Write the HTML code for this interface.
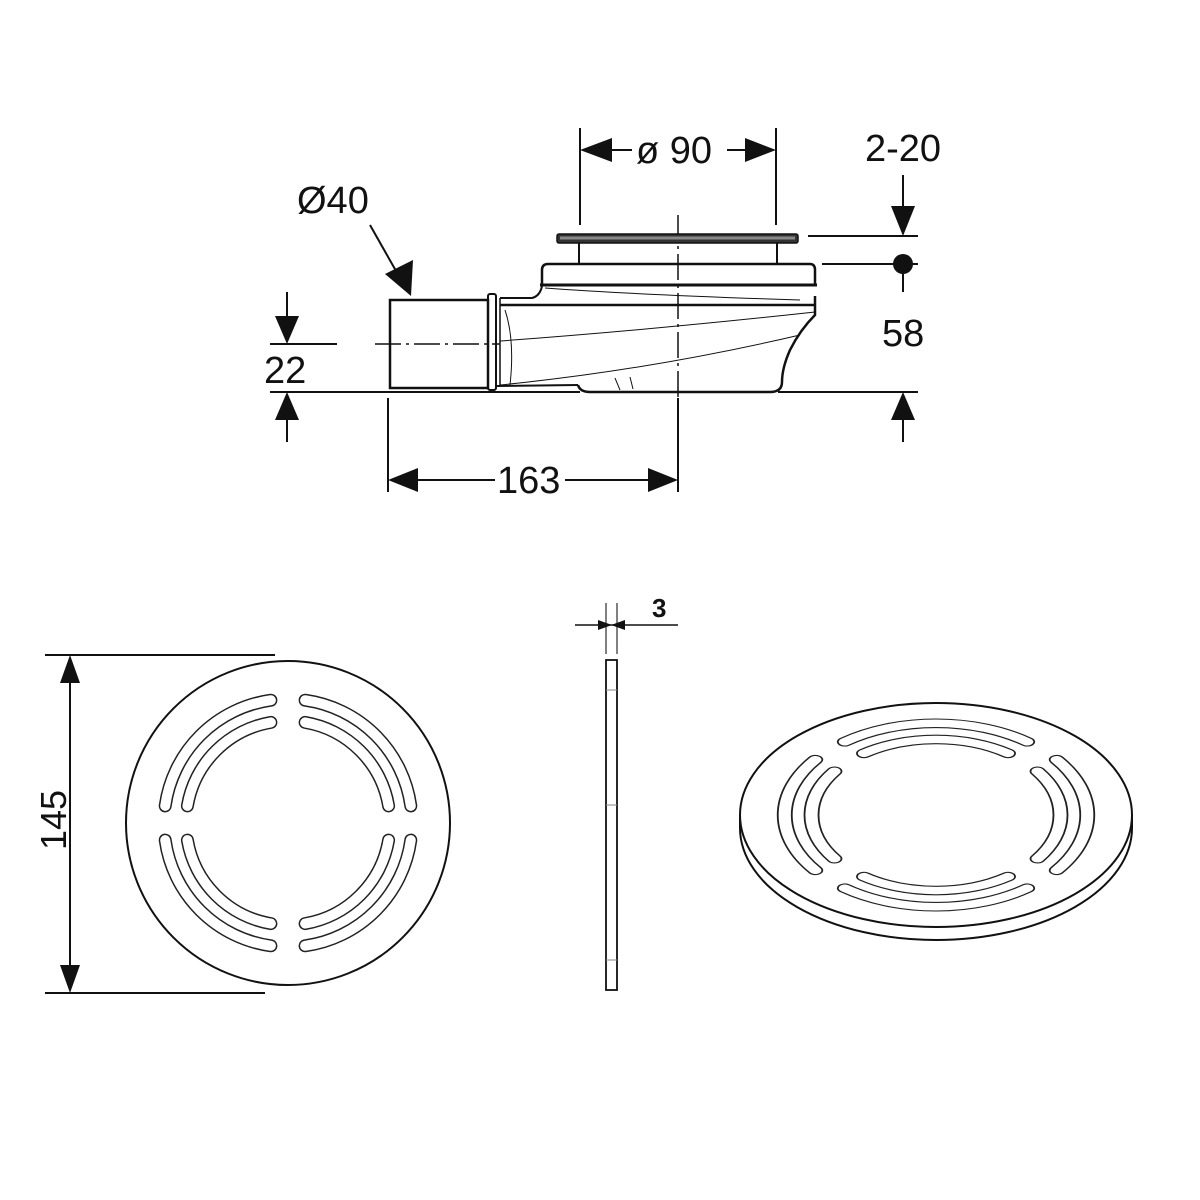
<!DOCTYPE html>
<html><head><meta charset="utf-8"><style>
html,body{margin:0;padding:0;background:#fff}
svg{display:block}
text{font-family:"Liberation Sans Narrow","Liberation Sans",sans-serif;fill:#111}
</style></head><body>
<svg width="1200" height="1200" viewBox="0 0 1200 1200" xmlns="http://www.w3.org/2000/svg">
<defs>
<g id="slots">
  <g fill="none" stroke-linecap="round">
    <g stroke="#222" stroke-width="13">
      <path d="M-17.1,-122.8 A124,124 0 0 0 -122.8,-17.1"/>
      <path d="M-17.1,-100.6 A102,102 0 0 0 -100.6,-17.1"/>
    </g>
    <g stroke="#fff" stroke-width="10">
      <path d="M-17.1,-122.8 A124,124 0 0 0 -122.8,-17.1"/>
      <path d="M-17.1,-100.6 A102,102 0 0 0 -100.6,-17.1"/>
    </g>
  </g>
</g>
<g id="four">
  <use href="#slots"/>
  <use href="#slots" transform="scale(-1,1)"/>
  <use href="#slots" transform="scale(1,-1)"/>
  <use href="#slots" transform="scale(-1,-1)"/>
</g>
</defs>

<g stroke="#111" fill="none">
<line x1="580" y1="128" x2="580" y2="225" stroke-width="2"/>
<line x1="776" y1="128" x2="776" y2="225" stroke-width="2"/>
<line x1="612" y1="150" x2="632" y2="150" stroke-width="2"/>
<line x1="727" y1="150" x2="745" y2="150" stroke-width="2"/>
<line x1="808" y1="236" x2="918" y2="236" stroke-width="2"/>
<line x1="822" y1="264" x2="918" y2="264" stroke-width="2"/>
<line x1="903" y1="175" x2="903" y2="210" stroke-width="2"/>
<line x1="903" y1="270" x2="903" y2="292" stroke-width="2"/>
<line x1="903" y1="418" x2="903" y2="442" stroke-width="2"/>
<line x1="270" y1="392" x2="580" y2="392" stroke-width="2"/>
<line x1="778" y1="392" x2="918" y2="392" stroke-width="2"/>
<line x1="270" y1="344" x2="337" y2="344" stroke-width="2"/>
<line x1="287" y1="292" x2="287" y2="318" stroke-width="2"/>
<line x1="287" y1="418" x2="287" y2="442" stroke-width="2"/>
<line x1="388" y1="398" x2="388" y2="492" stroke-width="2"/>
<line x1="678" y1="398" x2="678" y2="492" stroke-width="2"/>
<line x1="415" y1="480" x2="495" y2="480" stroke-width="2"/>
<line x1="565" y1="480" x2="650" y2="480" stroke-width="2"/>
<line x1="370" y1="225" x2="400" y2="278" stroke-width="2"/>
<line x1="678" y1="215" x2="678" y2="400" stroke-width="1.5" stroke-dasharray="26,5,3,5"/>
<line x1="375" y1="344" x2="500" y2="344" stroke-width="1.5" stroke-dasharray="26,5,3,5"/>

<rect x="557" y="234" width="241" height="9" fill="#333" stroke-width="1.5" rx="2"/>
<rect x="560" y="236.5" width="235" height="3" fill="#888" stroke="none"/>
<path d="M579,243 V263 M777,243 V263" stroke-width="2"/>
<path d="M542,284 V270 Q542,264 548,264 H810 Q815,264 815,270 V284" stroke-width="2.5"/>
<line x1="540" y1="285" x2="817" y2="285" stroke-width="3"/>
<path d="M542,286 Q540,296 532,298 H500" stroke-width="2"/>
<line x1="500" y1="305" x2="815" y2="305" stroke-width="2.5"/>
<line x1="500" y1="298" x2="500" y2="386" stroke-width="1.5"/>
<path d="M815,296 V315 Q800,330 790,350 Q782,368 782,382 Q782,392 770,392 H590 Q580,392 578,385" stroke-width="2.5"/>
<path d="M497,386 L578,385" stroke-width="2"/>
<path d="M545,288 Q640,295 800,300" stroke-width="1"/>
<path d="M500,341 Q650,330 815,312" stroke-width="1"/>
<path d="M500,385 Q650,370 800,335" stroke-width="1"/>
<path d="M505,310 Q515,340 510,385" stroke-width="1"/>
<path d="M615,378 l5,12 M630,377 l3,12" stroke-width="1"/>
<rect x="390" y="300" width="98" height="88" stroke-width="2.5"/>
<rect x="488" y="294" width="8" height="96" rx="2" stroke-width="2"/>

<line x1="45" y1="655" x2="275" y2="655" stroke-width="2"/>
<line x1="45" y1="993" x2="265" y2="993" stroke-width="2"/>
<line x1="70" y1="680" x2="70" y2="968" stroke-width="2"/>
<circle cx="288" cy="823" r="162" stroke-width="2"/>
<rect x="606" y="660" width="11" height="330" stroke-width="1.8"/>
<path d="M606,805 h11 M606,690 h11 M606,960 h11" stroke-width="1" stroke="#888"/>
<line x1="606" y1="603" x2="606" y2="654" stroke-width="1.5" stroke="#555"/>
<line x1="617" y1="603" x2="617" y2="654" stroke-width="1.5" stroke="#555"/>
<line x1="575" y1="625" x2="678" y2="625" stroke-width="1.5"/>
<path d="M740,815 V828 A196,112 0 0 0 1132,828 V815" stroke-width="2"/>
<ellipse cx="936" cy="815" rx="196" ry="112" stroke-width="2" fill="#fff"/>
</g>

<use href="#four" transform="translate(288,823)"/>
<use href="#four" transform="translate(936,815) scale(1.22,0.74) rotate(45)"/>

<g fill="#111">
<polygon points="580,150 612,138 612,162"/>
<polygon points="776,150 745,138 745,162"/>
<polygon points="903,236 891,206 915,206"/>
<circle cx="903" cy="264" r="10"/>
<polygon points="903,392 891,420 915,420"/>
<polygon points="287,344 275,316 299,316"/>
<polygon points="287,392 275,420 299,420"/>
<polygon points="388,480 418,468 418,492"/>
<polygon points="678,480 648,468 648,492"/>
<polygon points="411,296 385,274 413,260"/>
<polygon points="70,655 60,683 80,683"/>
<polygon points="70,993 60,965 80,965"/>
<polygon points="612,625 598,620 598,630"/>
<polygon points="611,625 625,620 625,630"/>
</g>

<text x="636" y="163" font-size="38">ø 90</text>
<text x="865" y="161" font-size="38">2-20</text>
<text x="297" y="213" font-size="38">Ø40</text>
<text x="882" y="346" font-size="38">58</text>
<text x="264" y="383" font-size="38">22</text>
<text x="497" y="493" font-size="38">163</text>
<text x="652" y="617" font-size="26" font-weight="bold">3</text>
<text font-size="36" transform="translate(66,850) rotate(-90)">145</text>
</svg>
</body></html>
